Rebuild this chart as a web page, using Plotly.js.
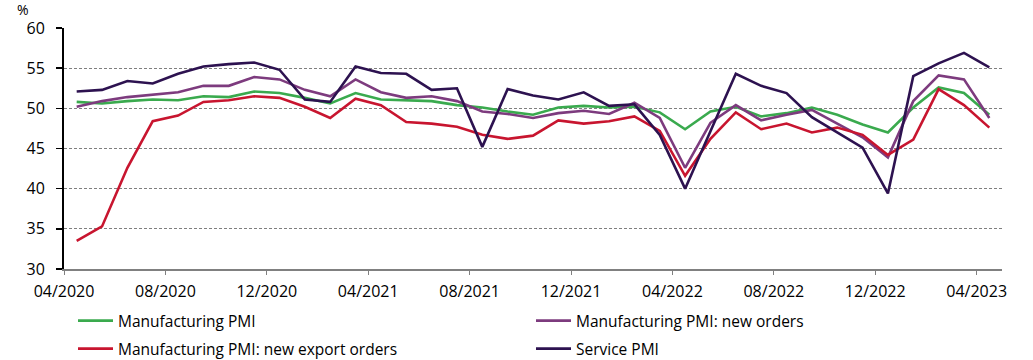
<!DOCTYPE html>
<html>
<head>
<meta charset="utf-8">
<script src="https://cdn.plot.ly/plotly-3.0.1.min.js"></script>
<style>html,body{margin:0;padding:0;background:#fff;}#chart{width:1033px;height:360px;}</style>
</head>
<body>
<div id="chart"></div>
<script>
const months = ["04/2020","05/2020","06/2020","07/2020","08/2020","09/2020","10/2020","11/2020","12/2020",
  "01/2021","02/2021","03/2021","04/2021","05/2021","06/2021","07/2021","08/2021","09/2021","10/2021","11/2021","12/2021",
  "01/2022","02/2022","03/2022","04/2022","05/2022","06/2022","07/2022","08/2022","09/2022","10/2022","11/2022","12/2022",
  "01/2023","02/2023","03/2023","04/2023"];
const tickLabels = ["04/2020","08/2020","12/2020","04/2021","08/2021","12/2021","04/2022","08/2022","12/2022","04/2023"];
const manufacturingPMI = [50.8,50.6,50.9,51.1,51.0,51.5,51.4,52.1,51.9,51.3,50.6,51.9,51.1,51.0,50.9,50.4,50.1,49.6,49.2,50.1,50.3,50.1,50.2,49.5,47.4,49.6,50.2,49.0,49.4,50.1,49.2,48.0,47.0,50.1,52.6,51.9,49.2];
const newOrders = [50.2,50.9,51.4,51.7,52.0,52.8,52.8,53.9,53.6,52.3,51.5,53.6,52.0,51.3,51.5,50.9,49.6,49.3,48.8,49.4,49.7,49.3,50.7,48.8,42.6,48.2,50.4,48.5,49.2,49.8,48.1,46.4,43.9,50.9,54.1,53.6,48.8];
const newExportOrders = [33.5,35.3,42.6,48.4,49.1,50.8,51.0,51.5,51.3,50.2,48.8,51.2,50.4,48.3,48.1,47.7,46.7,46.2,46.6,48.5,48.1,48.4,49.0,47.2,41.6,46.2,49.5,47.4,48.1,47.0,47.6,46.7,44.2,46.1,52.4,50.4,47.6];
const servicePMI = [52.1,52.3,53.4,53.1,54.3,55.2,55.5,55.7,54.8,51.1,50.8,55.2,54.4,54.3,52.3,52.5,45.2,52.4,51.6,51.1,52.0,50.3,50.5,46.7,40.0,47.1,54.3,52.8,51.9,48.9,47.0,45.1,39.4,54.0,55.6,56.9,55.1];

const idx = months.map((m, i) => i);
const tickPos = [];
for (let i = 0; i < tickLabels.length; i++) tickPos.push(i * 4 - 0.5);

const FONT = "Open Sans, sans-serif";
function tr(name, y, color, legend) {
  return {x: idx, y: y, name: name, type: "scatter", mode: "lines",
    line: {color: color, width: 2.6}, legend: legend, text: months, hoverinfo: "skip"};
}
const data = [
  tr("Manufacturing PMI", manufacturingPMI, "#3aaa4e", "legend"),
  tr("Manufacturing PMI: new orders", newOrders, "#7d3b7e", "legend2"),
  tr("Manufacturing PMI: new export orders", newExportOrders, "#c8152f", "legend3"),
  tr("Service PMI", servicePMI, "#2d1250", "legend4")
];
function leg(xpx, ypx) {
  return {orientation: "h", font: {family: FONT, size: 15.5, color: "#000"},
    xref: "container", yref: "container", x: xpx / 1033, y: 1 - ypx / 360,
    xanchor: "left", yanchor: "middle", bgcolor: "rgba(0,0,0,0)", itemwidth: 35};
}
const layout = {
  width: 1033, height: 360,
  margin: {l: 64, r: 31, t: 28, b: 91},
  paper_bgcolor: "#fff", plot_bgcolor: "#fff",
  showlegend: true,
  legend: leg(73, 321),
  legend2: leg(531, 321),
  legend3: leg(73, 349),
  legend4: leg(531, 349),
  xaxis: {
    range: [-0.5, 36.5], tickmode: "array", tickvals: tickPos, ticktext: tickLabels,
    ticklabelshift: 12.7, ticklabelstandoff: 3,
    ticks: "outside", ticklen: 4, tickcolor: "#808080", tickwidth: 1,
    showline: true, linecolor: "#808080", linewidth: 2,
    showgrid: false, zeroline: false,
    tickfont: {family: FONT, size: 16, color: "#000"}, fixedrange: true
  },
  yaxis: {
    range: [30, 60], tickmode: "array", tickvals: [30,35,40,45,50,55,60],
    ticks: "outside", ticklen: 6, tickcolor: "#000", tickwidth: 1.5,
    showline: true, linecolor: "#000", linewidth: 2,
    showgrid: true, gridcolor: "#7f7f7f", gridwidth: 1, griddash: "3px,2px",
    zeroline: false, ticklabelstandoff: 8,
    tickfont: {family: FONT, size: 16, color: "#000"}, fixedrange: true
  },
  annotations: [{text: "%", xref: "paper", yref: "paper", x: -0.052, y: 1.075,
    xanchor: "left", yanchor: "middle", showarrow: false,
    font: {family: FONT, size: 14, color: "#000"}}]
};
Plotly.newPlot("chart", data, layout, {displayModeBar: false, staticPlot: true});
</script>
</body>
</html>
